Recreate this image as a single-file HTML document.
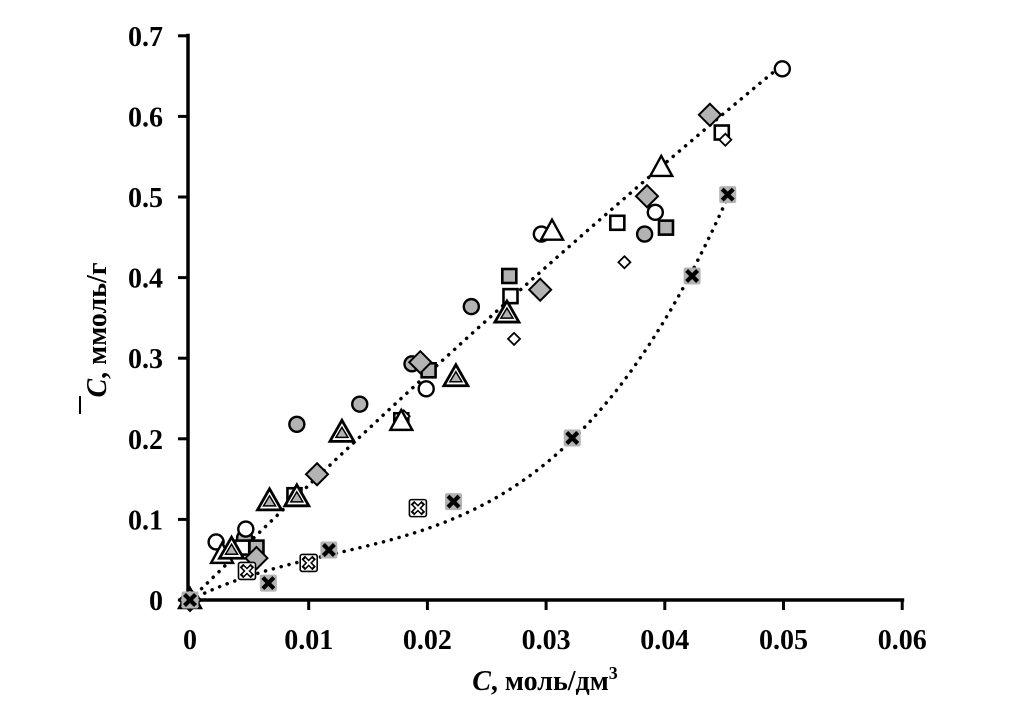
<!DOCTYPE html>
<html><head><meta charset="utf-8"><style>
html,body{margin:0;padding:0;background:#fff;}
svg{display:block;font-family:"Liberation Serif",serif;font-weight:bold;}
</style></head><body>
<svg id="chart" width="1010" height="709" viewBox="0 0 1010 709" xmlns="http://www.w3.org/2000/svg">
<g id="axes"></g>
<g id="trend"></g>
<g id="marks"></g>
<text x="545" y="690" text-anchor="middle" font-size="28"><tspan font-style="italic">C</tspan>, моль/дм<tspan font-size="18" dy="-11">3</tspan></text>
<g transform="translate(106,330) rotate(-90)">
<text x="0" y="0" text-anchor="middle" font-size="28"><tspan font-style="italic">C</tspan>,  ммоль/г</text>
<line x1="-84" y1="-26" x2="-66" y2="-26" stroke="#000" stroke-width="2"/>
</g>
</svg>
<script>
const xTicks=[0,0.01,0.02,0.03,0.04,0.05,0.06];
const xTickLabels=["0","0.01","0.02","0.03","0.04","0.05","0.06"];
const yTicks=[0,0.1,0.2,0.3,0.4,0.5,0.6,0.7];
const yTickLabels=["0","0.1","0.2","0.3","0.4","0.5","0.6","0.7"];
const openCircleX=[0.0022,0.0047,0.0199,0.0296,0.0392,0.0499];
const openCircleY=[0.072,0.088,0.262,0.454,0.481,0.659];
const greyCircleX=[0.0046,0.009,0.0143,0.0187,0.0237,0.0383];
const greyCircleY=[0.077,0.218,0.243,0.293,0.364,0.454];
const openSquareX=[0.0044,0.0088,0.0178,0.027,0.036,0.0448];
const openSquareY=[0.065,0.130,0.223,0.377,0.468,0.580];
const greySquareX=[0.0056,0.0201,0.0269,0.0401];
const greySquareY=[0.065,0.285,0.402,0.462];
const openDiamondX=[0.018,0.0273,0.0366,0.0451];
const openDiamondY=[0.228,0.324,0.419,0.571];
const greyDiamondX=[0,0.0056,0.0107,0.0194,0.0295,0.0385,0.0438];
const greyDiamondY=[0,0.052,0.156,0.295,0.385,0.501,0.602];
const openTriangleX=[0,0.0027,0.0178,0.0305,0.0397];
const openTriangleY=[0,0.056,0.221,0.457,0.536];
const greyTriangleX=[0.0035,0.0067,0.009,0.0128,0.0224,0.0267];
const greyTriangleY=[0.063,0.123,0.128,0.208,0.277,0.356];
const openCrossX=[0.0048,0.010,0.0192];
const openCrossY=[0.036,0.046,0.114];
const greyCrossX=[0,0.0066,0.0117,0.0222,0.0322,0.0423,0.0453];
const greyCrossY=[0,0.021,0.062,0.122,0.201,0.402,0.503];
const trend1Coef=[14.47,-23.3,0];
const trend1Max=0.05;
const trend2Coef=[7.37,-327,9000];
const trend2Max=0.0456;

const NS="http://www.w3.org/2000/svg";
const X0=190,XS=118.7/0.01,Y0=600,YS=80.6/0.1;
function sx(v){return X0+v*XS;}
function sy(v){return Y0-v*YS;}
function mk(tag,attrs,parent){const e=document.createElementNS(NS,tag);for(const k in attrs)e.setAttribute(k,attrs[k]);parent.appendChild(e);return e;}
const axes=document.getElementById('axes'),marks=document.getElementById('marks'),trend=document.getElementById('trend');

let a=mk('line',{x1:sx(0)-2,y1:sy(0),x2:sx(0.06)+2,y2:sy(0),stroke:'#000','stroke-width':3.5},axes);

a=mk('line',{x1:188,y1:sy(0.7)-2,x2:188,y2:sy(0)+2,stroke:'#000','stroke-width':3.5},axes);

xTicks.forEach((t,i)=>{
  const l=mk('line',{x1:sx(t),y1:600,x2:sx(t),y2:610,stroke:'#000','stroke-width':3},axes);
  
  const tx=mk('text',{x:sx(t),y:649,'text-anchor':'middle','font-size':28},axes);tx.textContent=xTickLabels[i];
  
});
yTicks.forEach((t,i)=>{
  const l=mk('line',{x1:178,y1:sy(t),x2:188,y2:sy(t),stroke:'#000','stroke-width':3},axes);
  
  const tx=mk('text',{x:163,y:sy(t)+10,'text-anchor':'end','font-size':28},axes);tx.textContent=yTickLabels[i];
  
});
function curve(coef,max,name){
  let d='';for(let i=0;i<=80;i++){const x=max*i/80;const y=coef[0]*x+coef[1]*x*x+coef[2]*x*x*x;d+=(i?'L':'M')+sx(x).toFixed(1)+' '+sy(y).toFixed(1);}
  const p=mk('path',{d:d,fill:'none',stroke:'#000','stroke-width':3.5,'stroke-dasharray':'0.1 8','stroke-linecap':'round'},trend);
  
}
curve(trend1Coef,trend1Max,'trend-line-linear');
curve(trend2Coef,trend2Max,'trend-line-exponential');

function draw(xs,ys,type,name){
  xs.forEach((xv,i)=>{
    const cx=sx(xv),cy=sy(ys[i]);const g=mk('g',{},marks);
    
    
    const G='#b3b3b3';
    if(type==='oc')mk('circle',{cx:cx,cy:cy,r:7.5,fill:'#fff',stroke:'#000','stroke-width':2.4},g);
    if(type==='gc')mk('circle',{cx:cx,cy:cy,r:7.5,fill:G,stroke:'#000','stroke-width':2.4},g);
    if(type==='os')mk('rect',{x:cx-7,y:cy-7,width:14,height:14,fill:'#fff',stroke:'#000','stroke-width':2.6},g);
    if(type==='gs')mk('rect',{x:cx-7,y:cy-7,width:14,height:14,fill:G,stroke:'#000','stroke-width':2.6},g);
    if(type==='od')mk('path',{d:`M${cx} ${cy-6}L${cx+6} ${cy}L${cx} ${cy+6}L${cx-6} ${cy}Z`,fill:'#fff',stroke:'#000','stroke-width':1.8},g);
    if(type==='gd')mk('path',{d:`M${cx} ${cy-11}L${cx+11} ${cy}L${cx} ${cy+11}L${cx-11} ${cy}Z`,fill:G,stroke:'#000','stroke-width':2},g);
    if(type==='ot')mk('path',{d:`M${cx} ${cy-12}L${cx+11} ${cy+8}L${cx-11} ${cy+8}Z`,fill:'#fff',stroke:'#000','stroke-width':2.4},g);
    if(type==='gt'){mk('path',{d:`M${cx} ${cy-12}L${cx+12} ${cy+9}L${cx-12} ${cy+9}Z`,fill:'#fff',stroke:'#000','stroke-width':2.8},g);
      mk('path',{d:`M${cx} ${cy-5}L${cx+6} ${cy+5}L${cx-6} ${cy+5}Z`,fill:G,stroke:'#000','stroke-width':1.5},g);}
    if(type==='ox'||type==='gx'){
      mk('rect',{x:cx-8.5,y:cy-8.5,width:17,height:17,rx:2,fill:type==='ox'?'#fff':G,stroke:type==='ox'?'#000':'none','stroke-width':1.6},g);
      mk('path',{d:`M${cx-5.5} ${cy-5.5}L${cx+5.5} ${cy+5.5}M${cx+5.5} ${cy-5.5}L${cx-5.5} ${cy+5.5}`,stroke:'#000','stroke-width':type==='ox'?5:4.2},g);
      if(type==='ox')mk('path',{d:`M${cx-4} ${cy-4}L${cx+4} ${cy+4}M${cx+4} ${cy-4}L${cx-4} ${cy+4}`,stroke:'#fff','stroke-width':2},g);
    }
  });
}
draw(greyCircleX,greyCircleY,'gc','grey-circle-point');
draw(openSquareX,openSquareY,'os','open-square-point');
draw(greySquareX,greySquareY,'gs','grey-square-point');
draw(openCircleX,openCircleY,'oc','open-circle-point');
draw(greyDiamondX,greyDiamondY,'gd','grey-diamond-point');
draw(openDiamondX,openDiamondY,'od','open-diamond-point');
draw(openTriangleX,openTriangleY,'ot','open-triangle-point');
draw(greyTriangleX,greyTriangleY,'gt','grey-triangle-point');
draw(openCrossX,openCrossY,'ox','open-cross-square-point');
draw(greyCrossX,greyCrossY,'gx','grey-cross-square-point');
</script>
</body></html>
